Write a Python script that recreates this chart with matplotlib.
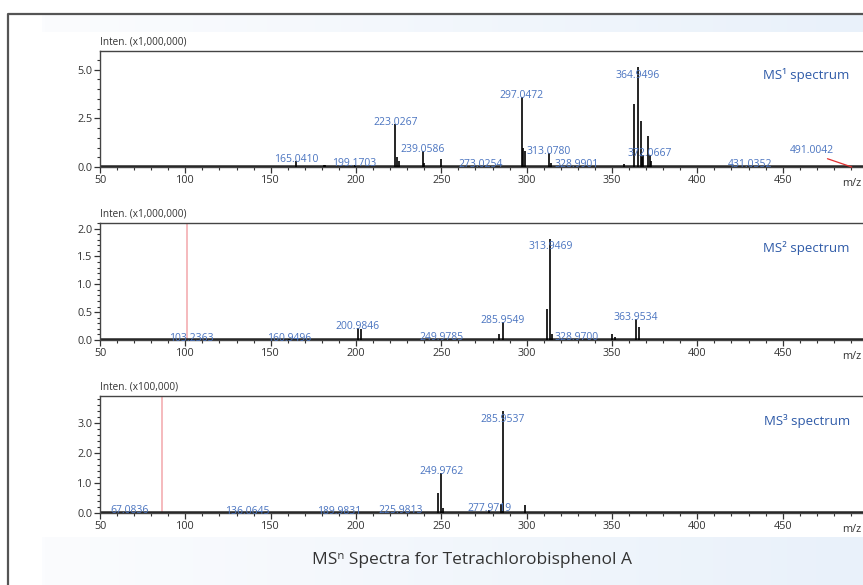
import numpy as np
import matplotlib.pyplot as plt
from matplotlib.ticker import MultipleLocator
from matplotlib.colors import LinearSegmentedColormap

plt.rcParams['font.family'] = ['Open Sans', 'DejaVu Sans']

# MS1 spectrum (x1,000,000)
ms1_mz = [165.04, 181.0, 182.0, 199.17, 223.03, 224.0, 225.0, 239.06, 240.0, 250.0,
          273.03, 297.05, 298.0, 299.0, 313.08, 314.0, 328.99, 357.0, 362.95, 364.95,
          366.95, 367.5, 368.2, 370.95, 372.07, 373.0, 431.04, 491.0]
ms1_int = [0.30, 0.12, 0.12, 0.10, 2.20, 0.50, 0.30, 0.82, 0.20, 0.42,
           0.05, 3.60, 1.00, 0.80, 0.72, 0.20, 0.05, 0.15, 3.23, 5.13,
           2.36, 0.50, 0.60, 1.60, 0.60, 0.30, 0.05, 0.02]
ms1_labels = [(165.0410, 0.30), (199.1703, 0.10), (223.0267, 2.20), (239.0586, 0.82),
              (273.0254, 0.05), (297.0472, 3.60), (313.0780, 0.72), (328.9901, 0.05),
              (364.9496, 5.13), (372.0667, 0.60), (431.0352, 0.05)]

# MS2 spectrum (x1,000,000)
ms2_mz = [103.24, 160.95, 200.98, 203.0, 249.98, 284.0, 285.95, 312.0, 313.95, 315.0,
          328.97, 350.0, 352.0, 363.95, 366.0]
ms2_int = [0.01, 0.01, 0.22, 0.20, 0.02, 0.10, 0.32, 0.56, 1.82, 0.10,
           0.02, 0.10, 0.05, 0.38, 0.23]
ms2_labels = [(103.2363, 0.01), (160.9496, 0.01), (200.9846, 0.22), (249.9785, 0.02),
              (285.9549, 0.32), (313.9469, 1.82), (328.9700, 0.02), (363.9534, 0.38)]

# MS3 spectrum (x100,000)
ms3_mz = [67.08, 136.06, 189.98, 225.98, 248.0, 249.98, 251.0, 277.97, 285.0, 285.95, 299.0]
ms3_int = [0.02, 0.01, 0.01, 0.02, 0.67, 1.33, 0.15, 0.10, 0.30, 3.40, 0.27]
ms3_labels = [(67.0836, 0.02), (136.0645, 0.01), (189.9831, 0.01), (225.9813, 0.02),
              (249.9762, 1.33), (285.9537, 3.40), (277.9719, 0.10)]

precursors = [None, 101.0, 86.3]
ylims = [5.95, 2.1, 3.9]
majors = [2.5, 0.5, 1.0]
minors = [0.5, 0.1, 0.2]
y_scales = ['Inten. (x1,000,000)', 'Inten. (x1,000,000)', 'Inten. (x100,000)']
titles = ['MS¹ spectrum', 'MS² spectrum', 'MS³ spectrum']

label_blue = '#4a74c0'
title_blue = '#2f5ba8'

fig = plt.figure(figsize=(8.63, 5.85), dpi=100)

# background: frame and light blue bands
bg = fig.add_axes([0, 0, 1, 1], zorder=-5)
bg.set_xlim(0, 863)
bg.set_ylim(585, 0)
bg.axis('off')
grad = np.linspace(0, 1, 256).reshape(1, -1)
cm = LinearSegmentedColormap.from_list('band', ['#fbfcfe', '#e9f1fa'])
bg.imshow(grad, extent=[42, 863, 32, 15], cmap=cm, aspect='auto')
bg.imshow(grad, extent=[42, 863, 585, 537], cmap=cm, aspect='auto')
bg.plot([8, 8, 863], [585, 14, 14], color='#555555', lw=1.6)

bottoms = [0.7145, 0.4188, 0.1231]
heights = [0.1983, 0.2, 0.2]

spectra = [(ms1_mz, ms1_int, ms1_labels), (ms2_mz, ms2_int, ms2_labels),
           (ms3_mz, ms3_int, ms3_labels)]

for i, (mz, inten, labels) in enumerate(spectra):
    ax = fig.add_axes([100 / 863, bottoms[i], 768 / 863, heights[i]])
    ax.set_xlim(50, 500)
    ax.set_ylim(0, ylims[i])
    ax.set_facecolor('none')

    if precursors[i] is not None:
        ax.axvline(precursors[i], color='#f4b4b8', lw=1.3, zorder=1)

    ax.plot([50, 500], [0.012 * ylims[i], 0.012 * ylims[i]], color='#222222', lw=1.8, zorder=2)
    ax.vlines(mz, 0, inten, color='black', lw=1.2, zorder=3)

    top = max(inten)
    for m, h in labels:
        dy = -6 if h == top else 1
        ax.annotate(f'{m:.4f}', xy=(m, h), xytext=(0, dy), textcoords='offset points',
                    ha='center', va='center', fontsize=7.5, color=label_blue, zorder=4)

    if i == 0:
        ax.annotate('491.0042', xy=(490.5, 0), xytext=(467, 0.85), ha='center', va='center',
                    fontsize=7.5, color=label_blue,
                    arrowprops=dict(arrowstyle='-', color='#e03030', lw=0.9,
                                    shrinkA=0, shrinkB=0, relpos=(0.6, 0.1)))

    for s in ax.spines.values():
        s.set_color('#444444')
        s.set_linewidth(1.0)

    ax.yaxis.set_major_locator(MultipleLocator(majors[i]))
    ax.yaxis.set_minor_locator(MultipleLocator(minors[i]))
    ax.xaxis.set_minor_locator(MultipleLocator(10))
    ax.set_xticks(np.arange(50, 501, 50))
    ax.set_xticklabels([str(v) for v in range(50, 500, 50)] + [''])
    ax.tick_params(axis='both', which='major', length=4, width=0.9, color='#333333',
                   labelsize=7.8, labelcolor='#333333', pad=1.5)
    ax.tick_params(axis='both', which='minor', length=2.5, width=0.8, color='#333333')
    ax.yaxis.set_major_formatter(plt.FormatStrFormatter('%.1f'))

    ax.annotate('m/z', xy=(500, 0), xytext=(-12, -12), textcoords='offset points',
                ha='center', va='center', fontsize=7.8, color='#333333',
                annotation_clip=False)

    ax.text(0, 1.03, y_scales[i], transform=ax.transAxes, ha='left', va='bottom',
            fontsize=7.2, color='#333333')
    ax.text(0.9763, 0.79, titles[i], transform=ax.transAxes,
            ha='right', va='center', fontsize=9.5, color=title_blue)

fig.text(472 / 863, 1 - 560 / 585, 'MSⁿ Spectra for Tetrachlorobisphenol A',
         ha='center', va='center', fontsize=12.5, color='#333333')

fig.savefig('out.png', dpi=100)
